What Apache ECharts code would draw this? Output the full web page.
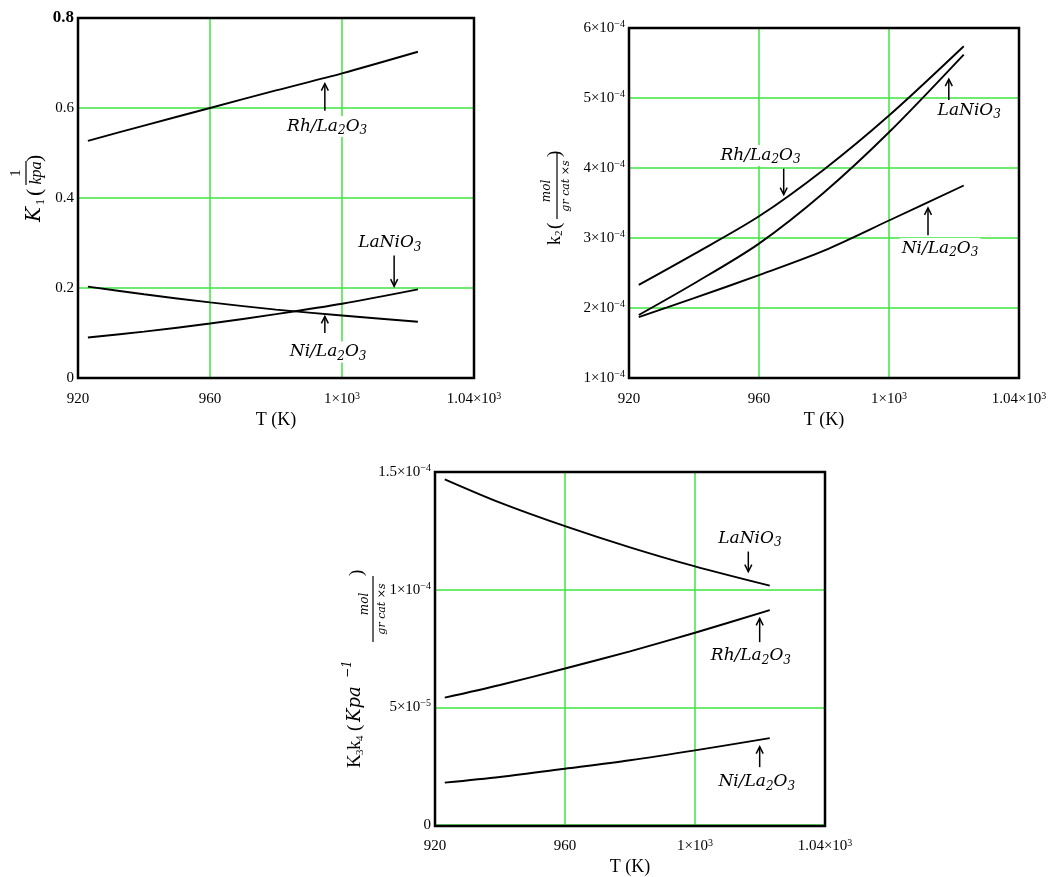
<!DOCTYPE html>
<html>
<head>
<meta charset="utf-8">
<script src="https://cdn.jsdelivr.net/npm/echarts@6/dist/echarts.min.js"></script>
<style>
html,body{margin:0;padding:0;background:#fff;}
#c{width:1057px;height:877px;}
</style>
</head>
<body>
<div id="c"></div>
<script>
// ---------------- DATA ----------------
const T = [923, 940, 960, 980, 1000, 1023];

const K1_Rh     = [0.527, 0.561, 0.600, 0.639, 0.677, 0.725];
const K1_LaNiO3 = [0.090, 0.103, 0.121, 0.142, 0.165, 0.197];
const K1_Ni     = [0.203, 0.186, 0.168, 0.152, 0.139, 0.125];

const k2_Rh     = [2.33e-4, 2.77e-4, 3.31e-4, 3.98e-4, 4.75e-4, 5.74e-4];
const k2_LaNiO3 = [1.90e-4, 2.35e-4, 2.92e-4, 3.65e-4, 4.51e-4, 5.62e-4];
const k2_Ni     = [1.87e-4, 2.14e-4, 2.47e-4, 2.82e-4, 3.25e-4, 3.75e-4];

const K3k4_LaNiO3 = [1.469e-4, 1.370e-4, 1.270e-4, 1.180e-4, 1.099e-4, 1.017e-4];
const K3k4_Rh     = [0.541e-4, 0.595e-4, 0.665e-4, 0.738e-4, 0.817e-4, 0.913e-4];
const K3k4_Ni     = [0.180e-4, 0.204e-4, 0.239e-4, 0.275e-4, 0.317e-4, 0.369e-4];

const xTickLabels   = ['920', '960', '1×10^3', '1.04×10^3'];
const k1TickLabels  = ['0', '0.2', '0.4', '0.6', '0.8'];
const k2TickLabels  = ['1×10^−4', '2×10^−4', '3×10^−4', '4×10^−4', '5×10^−4', '6×10^−4'];
const k34TickLabels = ['0', '5×10^−5', '1×10^−4', '1.5×10^−4'];

// annotation anchors (data coords): text centre, arrow x, arrow tail y, arrow tip y
const notes = [
  {g:0, t:'Rh/La{s|2}O{s|3}', tx:995.5, ty:0.559, ax:994.8, from:0.594, to:0.654},
  {g:0, t:'LaNiO{s|3}',       tx:1014.5, ty:0.300, ax:1015.8, from:0.272, to:0.204},
  {g:0, t:'Ni/La{s|2}O{s|3}', tx:995.8, ty:0.058, ax:994.8, from:0.100, to:0.137},
  {g:1, t:'Rh/La{s|2}O{s|3}', tx:960.5, ty:4.18e-4, ax:967.6, from:3.99e-4, to:3.62e-4},
  {g:1, t:'LaNiO{s|3}',       tx:1024.7, ty:4.82e-4, ax:1018.4, from:4.97e-4, to:5.27e-4},
  {g:1, t:'Ni/La{s|2}O{s|3}', tx:1015.7, ty:2.85e-4, ax:1012.0, from:3.04e-4, to:3.43e-4},
  {g:2, t:'LaNiO{s|3}',       tx:1016.9, ty:1.218e-4, ax:1016.4, from:1.162e-4, to:1.077e-4},
  {g:2, t:'Rh/La{s|2}O{s|3}', tx:1017.2, ty:0.718e-4, ax:1019.9, from:0.777e-4, to:0.878e-4},
  {g:2, t:'Ni/La{s|2}O{s|3}', tx:1019.0, ty:0.183e-4, ax:1019.9, from:0.246e-4, to:0.333e-4}
];

// ---------------- CHART ----------------
const SERIF = '"Liberation Serif", "DejaVu Serif", serif';
const MATH = '"DejaVu Serif", "Liberation Serif", serif';
const GREEN = '#3fe43f';

function pairs(ys){ return T.map((t,i)=>[t, ys[i]]); }
function richify(s){
  const k = s.indexOf('^');
  if (k < 0) return '{b|' + s + '}';
  return '{b|' + s.slice(0,k) + '}{p|' + s.slice(k+1) + '}';
}
const tickRich = {
  b: {fontFamily: SERIF, fontSize: 15, color: '#000', lineHeight: 17},
  p: {fontFamily: SERIF, fontSize: 10, color: '#000', lineHeight: 10, verticalAlign: 'top'},
  big: {fontFamily: SERIF, fontSize: 17, fontWeight: 'bold', color: '#000', lineHeight: 19}
};

const gridBoxes = [
  {left: 78,  top: 18,  width: 396, height: 360},
  {left: 629, top: 28,  width: 390, height: 350},
  {left: 435, top: 472, width: 390, height: 354}
];
const grids = gridBoxes.map(g => Object.assign({show: false, containLabel: false}, g));

function xAxis(i){
  return {
    type: 'value', gridIndex: i, min: 920, max: 1040, interval: 40,
    name: 'T (K)', nameLocation: 'middle', nameGap: 33,
    nameTextStyle: {fontFamily: SERIF, fontSize: 18, color: '#000'},
    axisLine: {show: false}, axisTick: {show: false},
    splitLine: {show: true, lineStyle: {color: [GREEN], width: 1.5}},
    axisLabel: {margin: 13, formatter: v => richify(xTickLabels[Math.round((v-920)/40)]), rich: tickRich}
  };
}
function yAxis(i, min, max, interval, labels, bigTop){
  return {
    type: 'value', gridIndex: i, min, max, interval,
    axisLine: {show: false}, axisTick: {show: false},
    splitLine: {show: true, lineStyle: {color: [GREEN], width: 1.5}},
    axisLabel: {margin: 4, formatter: v => {
      const idx = Math.round((v-min)/interval);
      if (bigTop && idx === labels.length-1) return '{big|' + labels[idx] + '}';
      return richify(labels[idx]);
    }, rich: tickRich}
  };
}
function line(i, ys, name){
  return {type: 'line', name, xAxisIndex: i, yAxisIndex: i, data: pairs(ys), smooth: 0.3,
          showSymbol: false, lineStyle: {color: '#000', width: 1.9}, z: 5};
}

const chart = echarts.init(document.getElementById('c'));
chart.setOption({
  backgroundColor: '#fff',
  animation: false,
  grid: grids,
  xAxis: [xAxis(0), xAxis(1), xAxis(2)],
  yAxis: [
    yAxis(0, 0, 0.8, 0.2, k1TickLabels, true),
    yAxis(1, 1e-4, 6e-4, 1e-4, k2TickLabels, false),
    yAxis(2, 0, 1.5e-4, 5e-5, k34TickLabels, false)
  ],
  series: [
    line(0, K1_Rh, 'Rh/La2O3'), line(0, K1_LaNiO3, 'LaNiO3'), line(0, K1_Ni, 'Ni/La2O3'),
    line(1, k2_Rh, 'Rh/La2O3'), line(1, k2_LaNiO3, 'LaNiO3'), line(1, k2_Ni, 'Ni/La2O3'),
    line(2, K3k4_LaNiO3, 'LaNiO3'), line(2, K3k4_Rh, 'Rh/La2O3'), line(2, K3k4_Ni, 'Ni/La2O3')
  ]
});

const graphics = [];
// plot frames
gridBoxes.forEach(b => {
  graphics.push({type: 'rect', z: 30, shape: {x: b.left, y: b.top, width: b.width, height: b.height},
    style: {fill: null, stroke: '#000', lineWidth: 2.5}});
});

// ------------- annotations -------------
const labRich = {
  s: {fontFamily: MATH, fontStyle: 'italic', fontSize: 12, lineHeight: 12, verticalAlign: 'bottom', fill: '#000'}
};
notes.forEach(n => {
  const p = chart.convertToPixel({gridIndex: n.g}, [n.tx, n.ty]);
  const a = chart.convertToPixel({gridIndex: n.g}, [n.ax, n.from]);
  const b = chart.convertToPixel({gridIndex: n.g}, [n.ax, n.to]);
  graphics.push({type: 'text', x: p[0], y: p[1], z: 20, style: {
    text: n.t, fontFamily: MATH, fontStyle: 'italic', fontSize: 17, lineHeight: 21,
    fill: '#000', align: 'center', verticalAlign: 'middle', rich: labRich,
    backgroundColor: '#fff', padding: [0, 2]
  }});
  const dir = b[1] < a[1] ? 1 : -1; // 1: arrow points up
  graphics.push({type: 'line', z: 20, shape: {x1: a[0], y1: a[1], x2: b[0], y2: b[1]},
    style: {stroke: '#000', lineWidth: 1.5}});
  graphics.push({type: 'polyline', z: 20, shape: {points: [[b[0]-3.5, b[1]+dir*7], [b[0], b[1]], [b[0]+3.5, b[1]+dir*7]]},
    style: {stroke: '#000', lineWidth: 1.5, fill: null}});
});

// ------------- rotated y-axis names -------------
function t(x, y, text, size, italic, align, fam){
  return {type: 'text', x, y, style: {text, fontFamily: fam || (italic ? MATH : SERIF), fontSize: size,
    fontStyle: italic ? 'italic' : 'normal', fill: '#000', align: align || 'left', verticalAlign: 'middle'}};
}
function bar(x1, x2, y){
  return {type: 'line', shape: {x1, y1: y, x2, y2: y}, style: {stroke: '#000', lineWidth: 1.2}};
}
// K1 (1/kpa)
graphics.push({type: 'group', x: 35, y: 222, rotation: Math.PI/2, children: [
  t(0, 0, 'K', 20, true),
  t(17, 6, '1', 12, false),
  t(26, 0, '(', 22, false),
  t(49, -19, '1', 15, false, 'center'),
  bar(37, 61, -9),
  t(49, 2, 'kpa', 16, true, 'center', SERIF),
  t(60, 0, ')', 22, false)
]});
// k2 (mol / gr cat xs)
graphics.push({type: 'group', x: 555, y: 245, rotation: Math.PI/2, children: [
  t(0, 0, 'k', 18, false),
  t(9, 4, '2', 11, false),
  t(16, 0, '(', 19, false),
  t(54, -8, 'mol', 12, true, 'center'),
  bar(26, 92, 2),
  t(59, 11, 'gr cat ×s', 11, true, 'center'),
  t(88, 0, ')', 19, false)
]});
// K3k4 (Kpa^-1 mol/(gr cat xs))
graphics.push({type: 'group', x: 355, y: 768, rotation: Math.PI/2, children: [
  t(0, 0, 'K', 19, false),
  t(13, 5, '3', 11, false),
  t(18, 0, 'k', 19, false),
  t(27, 5, '4', 11, false),
  t(37, 0, '(', 19, false),
  t(46, 0, 'Kpa', 18, true),
  t(90, -7, '−1', 12, true),
  t(164, 10, 'mol', 12, true, 'center'),
  bar(126, 192, 18),
  t(159, 27, 'gr cat ×s', 11, true, 'center'),
  t(192, 2, ')', 19, false)
]});

chart.setOption({graphic: graphics});
</script>
</body>
</html>
